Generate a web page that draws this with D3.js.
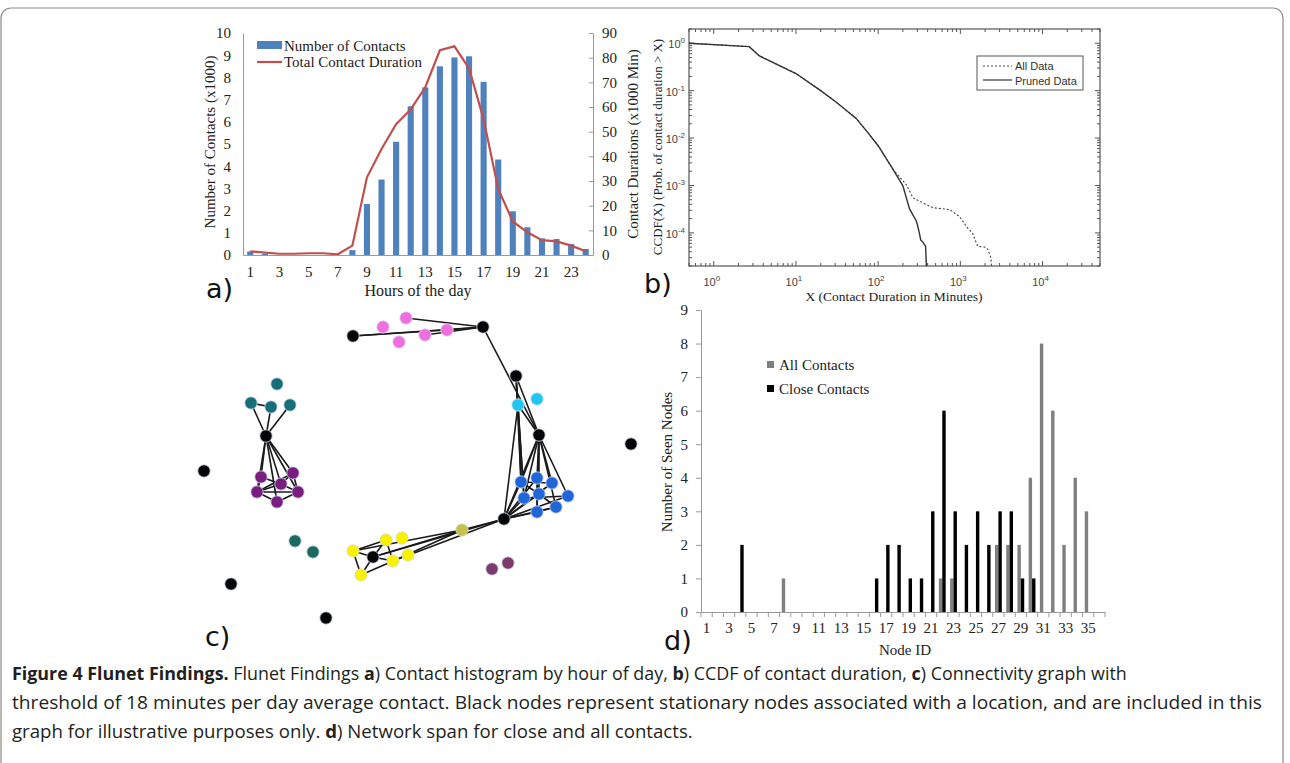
<!DOCTYPE html>
<html>
<head>
<meta charset="utf-8">
<script src="https://cdn.jsdelivr.net/npm/d3@7"></script>
<style>
  body { margin: 0; background: #fff; }
</style>
</head>
<body>
<svg width="1290" height="763"></svg>
<script>
// ---- a) contacts by hour of day
const hours = [1, 2, 3, 4, 5, 6, 7, 8, 9, 10, 11, 12, 13, 14, 15, 16, 17, 18, 19, 20, 21, 22, 23, 24]
const contacts = [0.16, 0.05, 0, 0, 0, 0, 0, 0.22, 2.3, 3.4, 5.1, 6.7, 7.55, 8.5, 8.9, 8.95, 7.8, 4.3, 1.97, 1.25, 0.75, 0.72, 0.5, 0.27]
const durations = [1.5, 1.0, 0.5, 0.5, 0.7, 0.7, 0.3, 3.8, 31.5, 43, 53, 59, 68, 83, 84.6, 75.7, 55, 26.8, 13.6, 9.2, 6, 5.5, 3.8, 1.5]

// ---- b) CCDF of contact duration
const prunedX = [0.5, 2.7, 3.6, 5, 10, 20, 31, 54, 75, 100, 151, 200, 241, 290, 300, 317, 330, 345, 378, 386]
const prunedY = [1.0, 0.85, 0.54, 0.41, 0.23, 0.1, 0.057, 0.026, 0.013, 0.0069, 0.0022, 0.00098, 0.00032, 0.00018, 0.00015, 0.0001, 7e-5, 6.6e-5, 5.2e-5, 2e-5]
const allX = [0.5, 2.7, 3.6, 5, 10, 20, 31, 54, 75, 100, 151, 218, 265, 460, 740, 980, 1230, 1400, 1630, 2000, 2150, 2350, 2400]
const allY = [1.0, 0.85, 0.54, 0.41, 0.23, 0.1, 0.057, 0.026, 0.013, 0.0069, 0.0022, 0.00107, 0.00055, 0.00034, 0.00031, 0.00022, 0.000126, 0.0001, 5.2e-5, 5e-5, 4.5e-5, 3e-5, 2e-5]

// ---- c) connectivity graph (layout units)
const nodeGroup = ['k', 'k', 'pink', 'pink', 'pink', 'pink', 'pink', 'k', 'cyan', 'cyan', 'k', 'k',
  'blue', 'blue', 'blue', 'blue', 'blue', 'blue', 'blue', 'blue', 'k', 'olive',
  'yellow', 'yellow', 'yellow', 'yellow', 'yellow', 'yellow', 'k', 'mauve', 'mauve',
  'teal', 'teal', 'teal', 'teal', 'k', 'purple', 'purple', 'purple', 'purple', 'purple', 'purple',
  'k', 'green', 'green', 'k', 'k']
const nodeX = [163, 293, 193, 216, 209, 235, 257, 326, 328, 347, 349, 441,
  331, 347, 362, 334, 349, 378, 347, 366, 314, 272,
  163, 196, 212, 203, 218, 171, 183, 302, 318,
  87, 61, 81, 100, 76, 71, 103, 91, 67, 108, 87,
  14, 105, 123, 41, 136]
const nodeY = [36, 27, 27, 18, 42, 35, 30, 76, 105, 99, 135, 144,
  182, 178, 183, 198, 194, 196, 212, 207, 219, 230,
  251, 240, 238, 261, 255, 275, 257, 269, 263,
  84, 103, 107, 105, 136, 177, 173, 184, 192, 192, 202,
  171, 241, 252, 284, 318]
const links = [[0, 1], [0, 6], [3, 1], [5, 1], [6, 1], [1, 10], [7, 10], [7, 8], [8, 10],
  [10, 12], [10, 13], [10, 14], [10, 15], [10, 16], [10, 17], [10, 18], [10, 19],
  [20, 12], [20, 13], [20, 14], [20, 15], [20, 16], [20, 17], [20, 18], [20, 19],
  [7, 15], [7, 12], [8, 12], [8, 20], [8, 15], [10, 20],
  [12, 14], [15, 17], [18, 19], [16, 19], [13, 18], [12, 16],
  [20, 21], [21, 22], [21, 28], [21, 25], [20, 28], [20, 25],
  [22, 23], [22, 28], [22, 27], [28, 23], [28, 25], [28, 27], [27, 25], [23, 25],
  [32, 33], [32, 35], [33, 35], [34, 35],
  [35, 36], [35, 37], [35, 38], [35, 39], [35, 40], [35, 41],
  [39, 40], [39, 37], [39, 41], [41, 40], [36, 38], [38, 37], [39, 38], [38, 40], [36, 39], [37, 40]]

// ---- d) network span
const nodeIds = d3.range(1, 37)
const allContacts = [0, 0, 0, 0, 0, 0, 0, 1, 0, 0, 0, 0, 0, 0, 0, 0, 0, 0, 0, 0, 0, 1, 1, 0, 0, 0, 2, 2, 2, 4, 8, 6, 2, 4, 3, 0]
const closeContacts = [0, 0, 0, 2, 0, 0, 0, 0, 0, 0, 0, 0, 0, 0, 0, 1, 2, 2, 1, 1, 3, 6, 3, 2, 3, 2, 3, 3, 1, 1, 0, 0, 0, 0, 0, 0]

const svg = d3.select('svg')
const serif = "'Liberation Serif', 'DejaVu Serif', serif"
const sans = "'Liberation Sans', Arial, sans-serif"

// outer frame
svg.append('rect')
  .attr('x', 1).attr('y', 8).attr('width', 1282).attr('height', 790).attr('rx', 10)
  .attr('fill', 'none').attr('stroke', '#8a8a8a').attr('stroke-width', 1.2)

function styleAxis (g, size) {
  g.select('.domain').attr('stroke', '#9a9a9a')
  g.selectAll('.tick line').attr('stroke', '#9a9a9a')
  g.selectAll('text').attr('font-family', serif).attr('font-size', size || 15).attr('fill', '#222')
}

function panelLabel (x, y, t) {
  svg.append('text').attr('x', x).attr('y', y).text(t)
    .attr('font-family', "'DejaVu Sans', sans-serif").attr('font-size', 27).attr('fill', '#111')
}

// ================= panel a
const xA = d3.scaleBand().domain(hours).range([243, 593]).paddingInner(0.58).paddingOuter(0.29)
const yA = d3.scaleLinear().domain([0, 10]).range([255, 33])
const yA2 = d3.scaleLinear().domain([0, 90]).range([255, 33])

svg.append('g')
  .selectAll('rect')
  .data(hours)
  .enter()
  .append('rect')
  .attr('x', function (d) { return xA(d) })
  .attr('y', function (d, i) { return yA(contacts[i]) })
  .attr('width', xA.bandwidth())
  .attr('height', function (d, i) { return yA(0) - yA(contacts[i]) })
  .attr('fill', '#4f81bd')

const lineA = d3.line()
  .x(function (d) { return xA(d) + xA.bandwidth() / 2 })
  .y(function (d, i) { return yA2(durations[i]) })

svg.append('path')
  .attr('d', lineA(hours))
  .attr('fill', 'none')
  .attr('stroke', '#c0504d')
  .attr('stroke-width', 2.2)

svg.append('g')
  .attr('transform', 'translate(0,255)')
  .call(d3.axisBottom(xA).tickValues(hours.filter(function (h) { return h % 2 === 1 })).tickSize(0).tickPadding(11))
  .call(styleAxis)

svg.append('g')
  .attr('transform', 'translate(243,0)')
  .call(d3.axisLeft(yA).ticks(10).tickSize(0).tickPadding(12))
  .call(styleAxis)

svg.append('g')
  .attr('transform', 'translate(593,0)')
  .call(d3.axisRight(yA2).ticks(9).tickSizeInner(-4).tickSizeOuter(0).tickPadding(9))
  .call(styleAxis)

svg.append('text').attr('transform', 'translate(215,142) rotate(-90)').attr('text-anchor', 'middle')
  .attr('font-family', serif).attr('font-size', 15).attr('fill', '#222').text('Number of Contacts (x1000)')
svg.append('text').attr('transform', 'translate(638,144) rotate(-90)').attr('text-anchor', 'middle')
  .attr('font-family', serif).attr('font-size', 15).attr('fill', '#222').text('Contact Durations (x1000 Min)')
svg.append('text').attr('x', 418).attr('y', 296).attr('text-anchor', 'middle')
  .attr('font-family', serif).attr('font-size', 16).attr('fill', '#222').text('Hours of the day')

// legend a
svg.append('rect').attr('x', 257).attr('y', 41).attr('width', 25).attr('height', 8).attr('fill', '#4f81bd')
svg.append('text').attr('x', 284).attr('y', 51).attr('font-family', serif).attr('font-size', 15).attr('fill', '#222').text('Number of Contacts')
svg.append('line').attr('x1', 257).attr('x2', 282).attr('y1', 62).attr('y2', 62).attr('stroke', '#c0504d').attr('stroke-width', 2.2)
svg.append('text').attr('x', 284).attr('y', 67).attr('font-family', serif).attr('font-size', 15).attr('fill', '#222').text('Total Contact Duration')
panelLabel(206, 298, 'a)')

// ================= panel b
const xB = d3.scaleLog().domain([0.5, 5e4]).range([689, 1100])
const yB = d3.scaleLog().domain([2e-5, 2]).range([266, 29])

svg.append('rect').attr('x', 689).attr('y', 29).attr('width', 411).attr('height', 237)
  .attr('fill', 'none').attr('stroke', '#555').attr('stroke-width', 1.2)

const ticksX = []
for (let k = -1; k <= 4; k++) for (let m = 1; m <= 9; m++) { const v = m * Math.pow(10, k); if (v >= 0.5 && v <= 5e4) ticksX.push({ v: v, major: m === 1 }) }
const ticksY = []
for (let k = -5; k <= 0; k++) for (let m = 1; m <= 9; m++) { const v = m * Math.pow(10, k); if (v >= 2e-5 && v <= 2) ticksY.push({ v: v, major: m === 1 }) }

const gb = svg.append('g').attr('stroke', '#555').attr('stroke-width', 1)
gb.selectAll('.tb').data(ticksX).enter().append('line')
  .attr('x1', function (d) { return xB(d.v) }).attr('x2', function (d) { return xB(d.v) })
  .attr('y1', 266).attr('y2', function (d) { return 266 - (d.major ? 5 : 3) })
gb.selectAll('.tt').data(ticksX).enter().append('line')
  .attr('x1', function (d) { return xB(d.v) }).attr('x2', function (d) { return xB(d.v) })
  .attr('y1', 29).attr('y2', function (d) { return 29 + (d.major ? 5 : 3) })
gb.selectAll('.tl').data(ticksY).enter().append('line')
  .attr('y1', function (d) { return yB(d.v) }).attr('y2', function (d) { return yB(d.v) })
  .attr('x1', 689).attr('x2', function (d) { return 689 + (d.major ? 5 : 3) })
gb.selectAll('.tr').data(ticksY).enter().append('line')
  .attr('y1', function (d) { return yB(d.v) }).attr('y2', function (d) { return yB(d.v) })
  .attr('x1', 1100).attr('x2', function (d) { return 1100 - (d.major ? 5 : 3) })

const powX = [0, 1, 2, 3, 4]
const powY = [0, -1, -2, -3, -4]
const xl = svg.append('g').selectAll('text').data(powX).enter().append('text')
  .attr('x', function (d) { return xB(Math.pow(10, d)) - 2 }).attr('y', 286)
  .attr('text-anchor', 'middle').attr('font-family', sans).attr('font-size', 11).attr('fill', '#444')
xl.text('10').append('tspan').attr('dy', -5).attr('font-size', 8).text(function (d) { return d })
const yl = svg.append('g').selectAll('text').data(powY).enter().append('text')
  .attr('x', 685).attr('y', function (d) { return yB(Math.pow(10, d)) + 5 })
  .attr('text-anchor', 'end').attr('font-family', sans).attr('font-size', 11).attr('fill', '#444')
yl.text('10').append('tspan').attr('dy', -5).attr('font-size', 8).text(function (d) { return d })

const lineB = d3.line()
  .x(function (d) { return xB(d[0]) })
  .y(function (d) { return yB(d[1]) })

svg.append('path')
  .attr('d', lineB(d3.zip(allX, allY)))
  .attr('fill', 'none').attr('stroke', '#444').attr('stroke-width', 1.1).attr('stroke-dasharray', '2,2')
svg.append('path')
  .attr('d', lineB(d3.zip(prunedX, prunedY)))
  .attr('fill', 'none').attr('stroke', '#333').attr('stroke-width', 1.4)

// legend b
svg.append('rect').attr('x', 977).attr('y', 56).attr('width', 106).attr('height', 34)
  .attr('fill', '#fff').attr('stroke', '#555').attr('stroke-width', 1)
svg.append('line').attr('x1', 983).attr('x2', 1012).attr('y1', 66).attr('y2', 66)
  .attr('stroke', '#444').attr('stroke-dasharray', '2,2')
svg.append('line').attr('x1', 983).attr('x2', 1012).attr('y1', 80).attr('y2', 80).attr('stroke', '#333').attr('stroke-width', 1.2)
svg.append('text').attr('x', 1015).attr('y', 70).attr('font-family', sans).attr('font-size', 11).attr('fill', '#333').text('All Data')
svg.append('text').attr('x', 1015).attr('y', 85).attr('font-family', sans).attr('font-size', 11).attr('fill', '#333').text('Pruned Data')

svg.append('text').attr('transform', 'translate(662,147) rotate(-90)').attr('text-anchor', 'middle')
  .attr('font-family', serif).attr('font-size', 13).attr('fill', '#222').text('CCDF(X) (Prob. of contact duration > X)')
svg.append('text').attr('x', 894).attr('y', 301).attr('text-anchor', 'middle')
  .attr('font-family', serif).attr('font-size', 13.5).attr('fill', '#222').text('X (Contact Duration in Minutes)')
panelLabel(644, 293, 'b)')

// ================= panel c
const xC = d3.scaleLinear().domain([0, 460]).range([190, 650])
const yC = d3.scaleLinear().domain([0, 340]).range([300, 640])
const groupColor = {
  k: '#050505', pink: '#f06ee0', cyan: '#1fc8f4', blue: '#1f66d8', olive: '#c7c14b',
  yellow: '#f8f200', mauve: '#7d3a6e', teal: '#186e78', purple: '#7a1d80', green: '#1b6a5f'
}

svg.append('g')
  .selectAll('line')
  .data(links)
  .enter()
  .append('line')
  .attr('x1', function (d) { return xC(nodeX[d[0]]) })
  .attr('y1', function (d) { return yC(nodeY[d[0]]) })
  .attr('x2', function (d) { return xC(nodeX[d[1]]) })
  .attr('y2', function (d) { return yC(nodeY[d[1]]) })
  .attr('stroke', '#1a1a1a')
  .attr('stroke-width', 1.6)

svg.append('g')
  .selectAll('circle')
  .data(nodeGroup)
  .enter()
  .append('circle')
  .attr('cx', function (d, i) { return xC(nodeX[i]) })
  .attr('cy', function (d, i) { return yC(nodeY[i]) })
  .attr('r', 6.2)
  .attr('fill', function (d) { return groupColor[d] })
  .attr('stroke', '#d6dcef')
  .attr('stroke-width', 0.8)

panelLabel(205, 646, 'c)')

// ================= panel d
const xD = d3.scaleBand().domain(nodeIds).range([701, 1105])
const yD = d3.scaleLinear().domain([0, 9]).range([612, 310])
const barW = 3.4

svg.append('g')
  .selectAll('rect')
  .data(nodeIds.filter(function (d, i) { return allContacts[i] > 0 }))
  .enter()
  .append('rect')
  .attr('x', function (d) { return xD(d) + xD.bandwidth() / 2 - barW })
  .attr('y', function (d) { return yD(allContacts[d - 1]) })
  .attr('width', barW)
  .attr('height', function (d) { return yD(0) - yD(allContacts[d - 1]) })
  .attr('fill', '#7f7f7f')

svg.append('g')
  .selectAll('rect')
  .data(nodeIds.filter(function (d, i) { return closeContacts[i] > 0 }))
  .enter()
  .append('rect')
  .attr('x', function (d) { return xD(d) + xD.bandwidth() / 2 })
  .attr('y', function (d) { return yD(closeContacts[d - 1]) })
  .attr('width', barW)
  .attr('height', function (d) { return yD(0) - yD(closeContacts[d - 1]) })
  .attr('fill', '#000')

const gx = svg.append('g')
  .attr('transform', 'translate(0,612)')
  .call(d3.axisBottom(xD).tickValues(nodeIds.filter(function (d) { return d % 2 === 1 && d < 36 })).tickSize(0).tickPadding(10))
  .call(styleAxis)
// boundary ticks between node ids
gx.selectAll('.bt').data(nodeIds).enter().append('line')
  .attr('x1', function (d) { return xD(d) }).attr('x2', function (d) { return xD(d) })
  .attr('y1', 0).attr('y2', 5).attr('stroke', '#9a9a9a')
gx.append('line').attr('x1', 1105).attr('x2', 1105).attr('y1', 0).attr('y2', 5).attr('stroke', '#9a9a9a')

svg.append('g')
  .attr('transform', 'translate(701,0)')
  .call(d3.axisLeft(yD).ticks(9).tickSizeInner(5).tickSizeOuter(0).tickPadding(8))
  .call(styleAxis)

svg.append('text').attr('transform', 'translate(672,462) rotate(-90)').attr('text-anchor', 'middle')
  .attr('font-family', serif).attr('font-size', 15).attr('fill', '#222').text('Number of Seen Nodes')
svg.append('text').attr('x', 905).attr('y', 655).attr('text-anchor', 'middle')
  .attr('font-family', serif).attr('font-size', 15).attr('fill', '#222').text('Node ID')

// legend d
svg.append('rect').attr('x', 767).attr('y', 361).attr('width', 7).attr('height', 7).attr('fill', '#7f7f7f')
svg.append('text').attr('x', 779).attr('y', 370).attr('font-family', serif).attr('font-size', 15).attr('fill', '#222').text('All Contacts')
svg.append('rect').attr('x', 767).attr('y', 385).attr('width', 7).attr('height', 7).attr('fill', '#000')
svg.append('text').attr('x', 779).attr('y', 394).attr('font-family', serif).attr('font-size', 15).attr('fill', '#222').text('Close Contacts')
panelLabel(664, 650, 'd)')

// ================= caption
const captionLines = [
  [['Figure 4 Flunet Findings.', true], [' Flunet Findings ', false], ['a', true], [') Contact histogram by hour of day, ', false], ['b', true], [') CCDF of contact duration, ', false], ['c', true], [') Connectivity graph with', false]],
  [['threshold of 18 minutes per day average contact. Black nodes represent stationary nodes associated with a location, and are included in this', false]],
  [['graph for illustrative purposes only. ', false], ['d', true], [') Network span for close and all contacts.', false]]
]
const captionWidth = [1115, 1251, 681]
captionLines.forEach(function (parts, i) {
  const t = svg.append('text')
    .attr('x', 0).attr('y', 0)
    .attr('font-family', "'Open Sans', 'Noto Sans', sans-serif").attr('font-size', 18.5).attr('fill', '#231f20')
  parts.forEach(function (p) {
    t.append('tspan').attr('font-weight', p[1] ? 'bold' : 'normal').text(p[0])
  })
  const w = t.node().getComputedTextLength()
  t.attr('transform', 'translate(12,' + (680 + i * 29) + ') scale(' + (captionWidth[i] / w) + ',1)')
})
</script>
</body>
</html>
